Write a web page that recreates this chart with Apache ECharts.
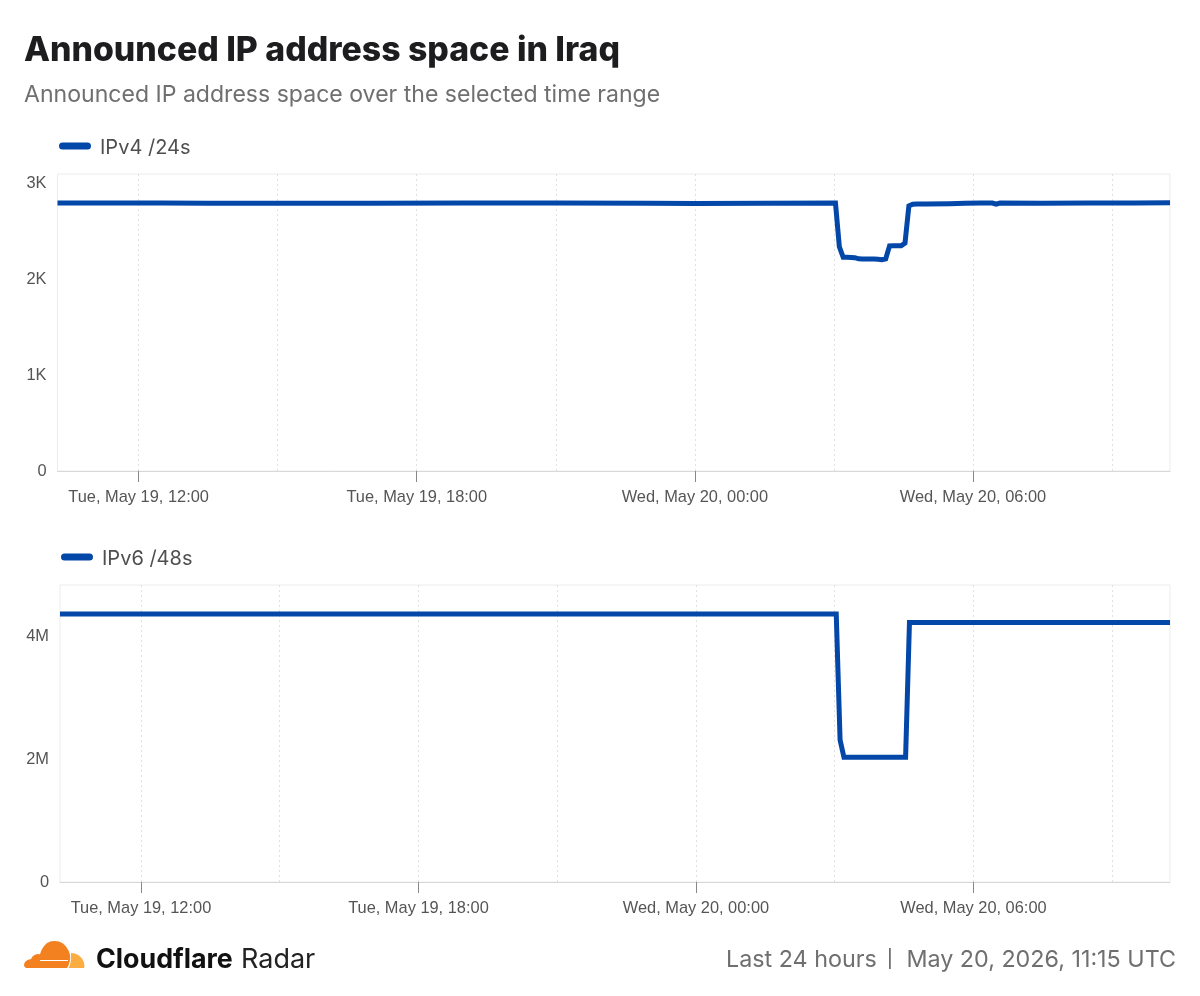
<!DOCTYPE html>
<html><head><meta charset="utf-8">
<style>html,body{margin:0;padding:0;background:#fff}#c{width:1200px;height:996px}</style>
<script src="https://cdn.jsdelivr.net/npm/echarts@6/dist/echarts.min.js"></script>
</head><body><div id="c"></div>
<script>
const titleText = 'Announced IP address space in Iraq';
const subtitleText = 'Announced IP address space over the selected time range';
const footerLeft = 'Last 24 hours';
const footerSep = '|';
const footerRight = 'May 20, 2026, 11:15 UTC';
const rangeStart = '2026-05-19T10:15:00Z';
const rangeEnd = '2026-05-20T10:15:00Z';
const seriesNames = ['IPv4 /24s', 'IPv6 /48s'];
const majorTicks = ['2026-05-19T12:00:00Z','2026-05-19T18:00:00Z','2026-05-20T00:00:00Z','2026-05-20T06:00:00Z'];
const minorGrid = ['2026-05-19T12:00:00Z','2026-05-19T15:00:00Z','2026-05-19T18:00:00Z','2026-05-19T21:00:00Z','2026-05-20T00:00:00Z','2026-05-20T03:00:00Z','2026-05-20T06:00:00Z','2026-05-20T09:00:00Z'];
const yTicks4 = [0,1000,2000,3000];
const yTicks6 = [0,2000000,4000000];
// [UTC time "dd hh:mm", value]
const ipv4Points = [
['19 10:15',2791],['19 11:30',2793],['19 12:30',2791],['19 13:30',2789],['19 15:00',2790],['19 17:00',2790],['19 19:00',2793],['19 21:00',2792],['19 23:00',2788],['20 00:00',2787],['20 01:30',2788],
['20 03:02',2791],['20 03:07',2336],['20 03:12',2226],['20 03:17',2226],['20 03:22',2224],['20 03:27',2222],['20 03:32',2210],['20 03:37',2208],['20 03:42',2208],['20 03:47',2208],['20 03:52',2208],['20 03:57',2206],['20 04:02',2201],['20 04:07',2210],['20 04:12',2345],['20 04:17',2346],['20 04:22',2346],['20 04:27',2346],['20 04:32',2375],['20 04:37',2761],['20 04:42',2779],['20 04:47',2781],
['20 05:00',2781],['20 05:30',2785],['20 05:50',2790],['20 06:10',2793],['20 06:25',2791],['20 06:30',2779],['20 06:35',2791],['20 07:30',2790],['20 08:30',2791],['20 09:30',2791],['20 10:15',2795]];
const ipv6Points = [
['19 10:15',4360000],['20 03:02',4360000],['20 03:07',2310000],['20 03:12',2030000],['20 04:32',2030000],['20 04:37',4220000],['20 10:15',4220000]];

const BLUE = '#0347a8';
const toMs = s => Date.UTC(2026,4,+s.slice(0,2),+s.slice(3,5),+s.slice(6,8));
const pairs = a => a.map(p => [toMs(p[0]), p[1]]);
const ms = s => new Date(s).getTime();
const pad = n => String(n).padStart(2,'0');
function fmtTime(v){
  const d = new Date(v);
  const wd = ['Sun','Mon','Tue','Wed','Thu','Fri','Sat'][d.getUTCDay()];
  return wd + ', May ' + d.getUTCDate() + ', ' + pad(d.getUTCHours()) + ':' + pad(d.getUTCMinutes());
}
const tickFont = {color:'#555', fontSize:16.4, fontFamily:'"Liberation Sans",Arial,sans-serif'};
function xAxis(i){
  return {
    type:'value', gridIndex:i, min:ms(rangeStart), max:ms(rangeEnd), scale:true,
    axisLine:{show:true,onZero:false,lineStyle:{color:'#d8d8d8',width:1}},
    axisTick:{show:true,length:11,lineStyle:{color:'#888',width:1},customValues:majorTicks.map(ms)},
    axisLabel:{show:true,margin:18,hideOverlap:false,showMinLabel:true,showMaxLabel:true,customValues:majorTicks.map(ms),formatter:v=>fmtTime(v),...tickFont},
    splitLine:{show:false}
  };
}
function yAxis(i,max,ticks,fmt){
  return {
    type:'value', gridIndex:i, min:0, max,
    axisLine:{show:false}, axisTick:{show:false}, splitLine:{show:false},
    axisLabel:{margin:11,customValues:ticks,showMinLabel:true,showMaxLabel:true,formatter:fmt,...tickFont}
  };
}
function series(i,data){
  return {
    name:seriesNames[i], type:'line', xAxisIndex:i, yAxisIndex:i, data:pairs(data),
    showSymbol:false, symbol:'none', lineStyle:{color:BLUE,width:5,join:'miter',miterLimit:2}, itemStyle:{color:BLUE}, z:5,
    markLine:{silent:true,symbol:'none',z:1,label:{show:false},animation:false,
      lineStyle:{color:'#e0e0e0',type:[2,3],width:1},
      data:minorGrid.map(t=>({xAxis:ms(t)}))}
  };
}
const legendIcon = 'path://M3.5 0 H28.5 A3.5 3.5 0 0 1 28.5 7 H3.5 A3.5 3.5 0 0 1 3.5 0 Z M0 11 L0 11 Z M32 11 L32 11 Z';
function legend(i,left,top){
  return {show:true,left,top,data:[seriesNames[i]],icon:legendIcon,itemWidth:32,itemHeight:11,itemGap:0,padding:0,
    textStyle:{color:'#4f4f4f',fontSize:20,fontFamily:'Inter,sans-serif',padding:[0,0,0,4]}};
}
const inter = 'Inter,sans-serif';
const chart = echarts.init(document.getElementById('c'),null,{renderer:'canvas'});
chart.setOption({
  animation:false, backgroundColor:'#fff',
  title:[
    {text:titleText,left:24,top:34,padding:0,textStyle:{color:'#1d1d1f',fontSize:33.8,fontWeight:800,fontFamily:inter}},
    {text:subtitleText,left:24,top:84,padding:0,textStyle:{color:'#6f6f6f',fontSize:23.07,fontWeight:400,fontFamily:inter}}
  ],
  legend:[legend(0,59,138),legend(1,61,549)],
  grid:[
    {left:57.5,right:30,top:174,height:297,show:true,borderColor:'#ececec',borderWidth:1,outerBoundsMode:'none'},
    {left:60,right:30,top:585,height:297,show:true,borderColor:'#ececec',borderWidth:1,outerBoundsMode:'none'}
  ],
  xAxis:[xAxis(0),xAxis(1)],
  yAxis:[
    yAxis(0,3094,yTicks4,v=>v===0?'0':(v/1000)+'K'),
    yAxis(1,4830000,yTicks6,v=>v===0?'0':(v/1000000)+'M')
  ],
  series:[series(0,ipv4Points),series(1,ipv6Points)],
  graphic:[
    {type:'polygon',shape:{points:[[26,968],[24.3,966.5],[24,964.5],[25,962],[27.5,960],[31,959],[32.5,956.5],[35,954.8],[37.5,954],[40,954.3],[41.5,950],[44,946],[47,943],[51,941.3],[55,941],[59,941.5],[63,943.5],[66,946.5],[68.5,950.5],[69.8,954],[70.2,958],[69.6,962],[68.5,965.5],[67,968]]},style:{fill:'#f48120'}},
    {type:'polygon',shape:{points:[[68.5,968],[70,965],[70.8,961],[71,957],[71,953],[75,953.5],[79,955.5],[82,958.5],[84,962.5],[84.5,966],[84,968]]},style:{fill:'#fbad41'}},
    {type:'line',shape:{x1:40,y1:960.5,x2:68,y2:960.5},style:{stroke:'#fff',lineWidth:1}},
    {type:'text',left:96,top:946,style:{text:'Cloudflare',fill:'#111',font:'700 26.8px Inter,sans-serif'}},
    {type:'text',left:241,top:946,style:{text:'Radar',fill:'#222',font:'400 27px Inter,sans-serif'}},
    {type:'text',left:726,top:948,style:{text:footerLeft,fill:'#6f6f6f',font:'400 23.3px Inter,sans-serif'}},
    {type:'text',left:887,top:947,style:{text:footerSep,fill:'#6f6f6f',font:'400 22px "Liberation Sans",sans-serif'}},
    {type:'text',right:24,top:948,style:{text:footerRight,fill:'#6f6f6f',font:'400 23.3px Inter,sans-serif'}}
  ]
});
</script></body></html>
